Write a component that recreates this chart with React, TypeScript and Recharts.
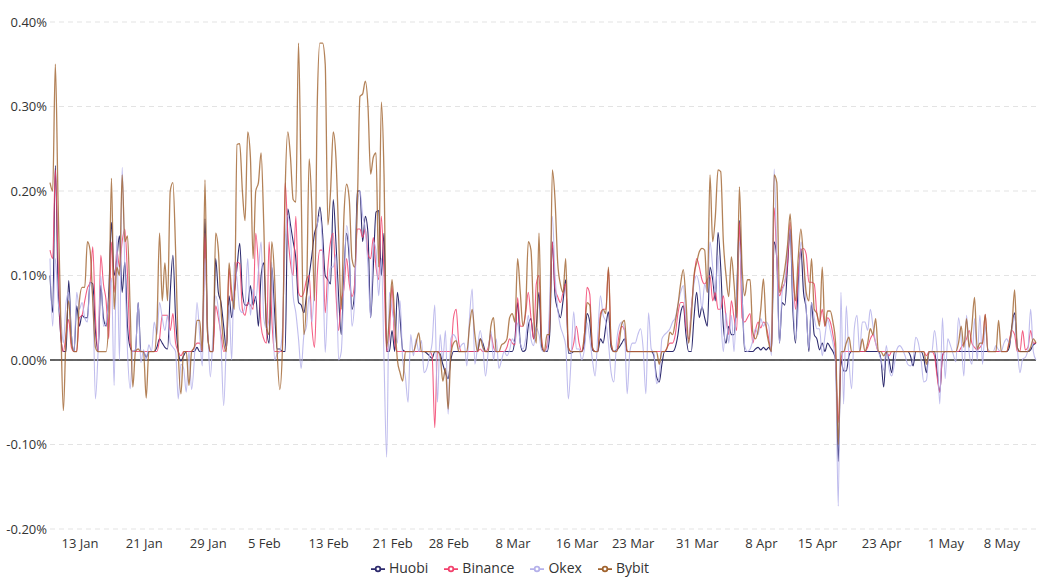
import React from "react";
import { LineChart, Line, XAxis, YAxis, CartesianGrid, Legend, ReferenceLine } from "recharts";

// funding rates every 8 hours, values in units of 0.01%
const START = Date.UTC(2021, 0, 9, 6);
const STEP = 8 * 3600 * 1000;

const tickDates = [
    "2021-01-13", "2021-01-21", "2021-01-29", "2021-02-05", "2021-02-13", "2021-02-21",
    "2021-02-28", "2021-03-08", "2021-03-16", "2021-03-23", "2021-03-31", "2021-04-08",
    "2021-04-15", "2021-04-23", "2021-05-01", "2021-05-08",
];
const monthNames = ["Jan", "Feb", "Mar", "Apr", "May", "Jun", "Jul", "Aug", "Sep", "Oct", "Nov", "Dec"];
const yTicks = [-20, -10, 0, 10, 20, 30, 40];
const legendOrder = ["Huobi", "Binance", "Okex", "Bybit"];

const huobi = [
    10, 5.6, 23, 9, 3, 1, 1, 9.4, 3, 1,
    6.4, 4, 5.3, 5, 5, 9.2, 9, 3.5, 1, 8.8,
    5, 4, 8, 16.3, 10, 12, 14.7, 8, 11.6, 4,
    1.5, 1, 1.2, 6.8, 1, 1, 0.3, 1, 1, 1,
    1.5, 2.5, 2, 1.5, 1.3, 8, 12.4, 5, 1, -0.1,
    0.5, 1, 1, 1, 1, 1.5, 1, 1, 16.7, 3,
    1, 1, 12, 8, 6.8, 4, 1.3, 7.6, 5, 8,
    11, 13.8, 8, 6.5, 6.5, 8.8, 6.5, 7.5, 4, 10,
    11.5, 4, 2, 11, 6, 1.3, 1.3, 1, 1, 17.9,
    16, 14, 12, 6.8, 6.5, 5.6, 7.6, 10, 12.4, 15,
    16, 18.1, 15, 10, 9.5, 9, 19, 14, 7.6, 3,
    10.4, 15, 12, 6, 8, 20, 20, 14, 17, 15,
    5, 11, 17.5, 17.7, 10, 15, 1, 1, 3.5, 1,
    8, 5, 1.2, 1, 1, 1, 1, 1, 1, 1,
    1, 0.8, 0.5, 0.2, 1, 1, 0.7, -0.5, -1.5, -2.2,
    0, 1, 1, 1, 1, 1, 1, 1, 1, 1,
    1, 2.5, 2, 1, 1, 1, 1, 1, 1, 1,
    1, 1, 1, 1, 2.5, 6.8, 2, 1, 1.2, 4,
    4.9, 2.5, 4, 8, 1.5, 1, 1, 3, 14, 7.6,
    6, 5, 7, 9.5, 0.8, 0.8, 1, 1, 1, 1,
    2, 5.5, 4.5, 1.2, 1, 1, 2.5, 2, 4, 5.7,
    1.5, 1, 1.2, 1.5, 2, 2.5, 1, 1, 1, 1,
    1, 1, 1, 1, 1, 1, 0.5, -2, -2.6, -0.5,
    1, 1, 1, 1, 1.5, 3, 5.5, 6.4, 3, 1,
    1, 5, 8, 5, 6.3, 5, 4, 11, 9.5, 7,
    15.1, 11, 4, 2, 4, 3, 3, 8, 16.5, 8,
    1, 1, 1, 1, 1.3, 1.5, 1.2, 1.5, 1.2, 1.5,
    1, 14, 12, 2, 6.8, 6.5, 11, 15.5, 6, 2,
    9, 13.2, 8, 6, 1, 6.8, 3, 2.5, 1.2, 2,
    1, 2, 1.5, 1, 0, -12, 0, -1.3, -1.3, 0.5,
    1, 1, 1, 1, 1, 1, 1, 1, 1, 1,
    1, 0, -3.2, 1, 0, -1.5, 1, 1, 1, 1,
    1, 1, 0.5, -0.7, 1, 1, 1, 0.2, -1.5, 1,
    1, 1, -1.5, -3.8, 0.5, 1, 1, 1, 1, 1,
    1, 1, 1, 1, 1, 1, 1, 1, 1, 1,
    1, 1, 1, 1, 1, 1, 1, 1, 1, 1.5,
    4, 5.6, 1.5, 1, 1, 1, 1, 1.2, 1.8, 2,
];

const binance = [
    13, 12, 22.5, 12, 3, 1, 3, 4.8, 1.5, 1,
    1, 5, 5.3, 7, 8.5, 9.2, 13.4, 5, 1, 12.4,
    9, 7, 2.5, 14, 8, 13, 11, 14, 15.5, 10,
    2, 1, 1, 1, 1, 1, 1, 1, 1, 1,
    1, 2.5, 5.3, 5.3, 5.3, 3.5, 5.5, 2, 1, 0.5,
    1, 1, 1, 1, 1.5, 2, 2, 1, 15, 3,
    1, 1, 6.4, 5, 3, 1, 1.5, 10.8, 7, 8,
    11.6, 11.4, 6, 5.3, 6.8, 6.5, 6, 15, 11, 4,
    2.5, 2, 14, 5, 1, 1, 1, 1, 21, 15,
    11.5, 10, 17, 8, 7.5, 8, 9.5, 10, 4, 1.5,
    10, 13, 13, 5.6, 11, 14, 15, 8, 3.5, 7,
    8.4, 12, 9, 7.5, 9, 15.5, 15.5, 14.5, 15.5, 12.5,
    12, 14.5, 11, 9.5, 17, 10, 1, 3, 8.8, 2,
    1, 1, 1, 1, 1, 1, 1, 1, 1, 1,
    1, 1, 1, 0.5, -8, 1, 1, 1, 1, 1,
    1, 5, 6, 2, 1, 1, 1, 1, 1, 1,
    1, 1.3, 1, 1, 1.5, 3, 1.5, 1, 1, 1,
    1, 1.5, 2.5, 2, 1.8, 7.4, 4, 4, 5.5, 8,
    5, 2.5, 9, 10, 2.5, 1, 1.8, 5, 14, 8.5,
    7.5, 6.8, 8, 9, 1.5, 1, 2, 4, 2, 1,
    3, 8.6, 7.8, 1.5, 1, 1, 5.5, 6, 6, 10.8,
    2, 1, 1, 3, 4, 3.5, 1, 1, 1, 1,
    1, 1, 1, 1, 1, 1, 1, 1, 1, 1,
    1, 1.5, 2, 2, 3, 5.5, 6.8, 6.8, 4, 2.5,
    6, 9.5, 12, 11, 9.5, 9, 9.5, 10, 7, 8,
    6, 6, 7.6, 5, 3, 7, 5, 3.5, 16.3, 5,
    4.5, 5, 5.5, 2, 3.5, 4.5, 3.8, 4.5, 4, 2.5,
    1, 18, 12, 7.6, 8.5, 9.2, 11.5, 16.3, 11, 6,
    10, 13, 13.2, 12.5, 9.2, 9.2, 9, 5.5, 4.5, 6,
    4, 5, 4.5, 3, 0.5, -7.4, 0, 1, 1, 1,
    1, 1, 1, 1, 1, 1, 1.5, 2.5, 3, 2,
    1, 1, 1, 1, 0.5, 1, 1, 1, 1, 1,
    1, 1, 1, 1, 1, 1, 1, 1, 0.5, 1,
    1, 0.5, -2, -3.8, 0.5, 1, 1, 1, 1, 1,
    1, 1.5, 2, 2.5, 3.5, 2, 1.5, 1.2, 1.5, 2,
    5.4, 1, 1, 1, 1, 1, 1, 1, 1, 2.3,
    3.5, 3, 1, 1, 3.5, 1.2, 1.5, 3.5, 2, 2,
];

const okex = [
    12, 4, 12, 7, 5, 2, 6.8, 8, 3, 1,
    8, 6, 6.8, 5, 4.5, 9.2, 7.6, -4.6, 1, 10,
    4, 4.5, 7, 9.7, -3, 14.7, 0, 22.8, 11, 1,
    -3.4, 1, 1.2, 6.8, -0.3, 1.2, 0, 1.8, 1, 4.5,
    3, 6.8, 5, 3.5, 5.3, 2, 1.5, 1, -4.6, -0.5,
    -1, -3.8, 1, -3.5, 0, 6.8, 3, -0.7, 12, 4,
    -2, 3, 7.6, 6, 2, -5.4, 2, 6.5, 0, 11.6,
    9.5, 6, 5.6, 6.5, 12, 5.3, 8.4, 7, 10.5, 14,
    5, 3.7, 5, 11.6, 0, 0.7, 1, 3.7, 14, 17.1,
    14.6, 7.6, 5.6, 2.5, -1, 2.9, 4, 7.6, 4.5, 9.2,
    16, 17.1, 13, 0.9, 8, 11, 11, 12.5, 0, 1,
    9, 15.9, 13, 4, 7, 18, 20, 17.1, 15.5, 11,
    5, 14, 13, 7.6, 12, 0, -11.5, 8, 6, 4,
    2, 7, 0, -2, -5, 3, 0.5, 2.5, 1, 2.3,
    -1.5, -1, 0.5, 2, 6.5, -5, 3, 0, 3.5, -6.4,
    2.5, 3, 2.5, 1.3, 1.8, 2, -0.7, 5, 8.4, -0.5,
    1.5, 3.5, 1.5, -1.9, 1, 3.5, 0, 2.5, -1, 0,
    1, 0.5, 1.2, 2.5, 2, 4.4, 2, 1.3, 2.5, 5.3,
    2.5, 1.7, 3.8, 3, 1.2, 1, 1.2, 7, 17, 10,
    6, 4, 3, 1.7, -4.6, 0, 5.7, 1.3, 1.3, 0,
    1.3, 4.4, 2.5, 0, -1.9, 3, 7.6, 5.3, 4.5, 2,
    -1.5, -2.6, 2, 4, 4.5, 3.5, -4, 1, 2, 2,
    3, 3.7, 1.3, -4, 5.6, 1.3, 0.8, -2.8, -2, 2.5,
    3, 3.3, 3.7, 4.5, 5, 6.5, 8, 8.8, 5, 2,
    6, 9, 10, 8.8, 6, 9, 8, 14, 11, 8,
    12.4, 5.3, 1, 5.6, 2, 5.3, 1, 8, 14, 7.6,
    1.7, 1, 1.3, 2.3, 3.7, 3, 4.9, 4, 4.5, 4,
    0.5, 22.6, 12, 2, 8, 9.2, 13, 15.5, 7.5, 2.5,
    6, 14, 11.6, 6, 1.3, 6.8, 5, 3.7, 3.7, 0.5,
    2.8, 4.8, 3.5, 2, -0.5, -17.3, 8, -5.2, 6.4, 0,
    -3.4, 3.7, 5.3, 1, 4.5, 4.5, 3.5, 6, 4, 2,
    1, 0, -1.2, 1.7, -1, -1.9, -0.5, 1.3, 1.7, 1.3,
    0.5, -0.5, -0.7, 0, 2.7, 2, 0, -2.6, -2.4, 1,
    0.9, 3.5, 1, -5.2, 5, -2.2, 2.5, 1.7, 0.7, -0.2,
    5, 2.5, -1.9, 5.3, 0.8, -0.5, 4.9, 0, 5.3, -0.5,
    4, 1.3, 1, 1, 1.7, 1.2, 1, 2, 2.5, 2,
    3.5, 5.3, 1.5, -1.5, 0.1, 0.3, 1.3, 6, 1, 0,
];

const bybit = [
    21, 20, 35, 19, 5, -6, 3, 7, 2, 1,
    1, 7, 8.6, 8.6, 14, 13, 7, 1.5, 1, 1,
    1, 1, 5, 21.5, 6, 11, 10, 21.9, 14, 14.7,
    6, -3.2, 1, 1.3, 1, 1, -4.5, 1, 1, 1,
    4, 15, 7, 11.5, 7, 20, 21, 13, 1, -4,
    1, 1, -3, 1, 1.5, 4.7, 4.7, 1, 21.3, 3,
    1, 1, 15, 13, 6, 2, 1, 11.5, 8, 6,
    25.5, 25.6, 20, 16.5, 27, 24, 12, 20, 21, 24.5,
    16, 4, 3, 14, 10, 1, -3.5, 1.5, 20, 27,
    24, 19, 18.7, 37.5, 20, 3, 7.5, 23.8, 18, 7,
    30, 37.5, 37.5, 35, 16, 20, 27, 24, 15, 6,
    17, 20.8, 19, 12, 11, 18, 31.2, 31.5, 33, 30,
    22, 24, 24.5, 11, 30.5, 22, 1.5, 5, 9.5, 5,
    0, -1.5, -2.5, 1, 1, 1, 1, 2, 3.2, 1,
    1, 1, 1, 1, 1, 1, 0.5, -2.5, -1, -5.8,
    0.5, 2, 2.3, 1, 1, 1, 1, 4, 6, 3,
    1, 2.5, 1.5, 1, 1, 4, 5, 1, 1, 1.8,
    2, 2.5, 5, 5.5, 4.5, 12, 8, 4, 6, 14,
    13, 5, 2, 15, 2, 1, 3, 3, 22.5, 19,
    11.5, 9, 8, 12, 1.5, 1, 1, 1, 1, 1,
    3, 6.8, 6.5, 1.5, 1, 1, 5, 6, 5.5, 11,
    2, 1, 1, 2, 4.3, 4.7, 1, 1, 1, 1,
    1, 1, 1, 1, 1, 1, 1, 1, -0.5, 1,
    1, 1.5, 3.3, 3, 4.5, 6.5, 9, 10.7, 7, 2,
    5, 10, 11.5, 12.8, 13.2, 13, 8, 21.9, 14, 17,
    22.5, 22.3, 14, 10, 7.5, 12.2, 9, 5, 20.5, 11,
    7.6, 9.5, 9.5, 3.3, 2.5, 3.5, 6, 9.6, 4, 2,
    1, 21.9, 21, 8, 9, 10.8, 13.5, 17.3, 11, 7,
    12, 15.5, 12, 8, 7, 12, 6, 5.5, 4, 11,
    4, 5.8, 5.8, 4.5, 2, -10, 1, 1, 2, 2.7,
    1, 1, 1, 1, 2.5, 1, 2, 3.7, 3, 4.9,
    1, 1, 0.5, 1, 1, 1, 1, 1, 1, 1,
    1, 1, 1, 1, 1, 1, 1, 1, -0.5, 1,
    1, 1, 1, 1, 1, 1, 1, 1, 1, 1,
    2, 4, 1.5, 4.9, 1.5, 4, 7.4, 1.3, 2, 2,
    5.4, 1, 1, 1, 1, 4.7, 1, 1, 1, 2,
    4, 8.3, 1.5, 1, 1, 1, 1, 1.5, 2.5, 2,
];

const count = Math.min(huobi.length, binance.length, okex.length, bybit.length);
const data = Array.from({ length: count }, (_, i) => ({
    t: START + i * STEP,
    huobi: huobi[i],
    binance: binance[i],
    okex: okex[i],
    bybit: bybit[i],
}));

const xTicks = tickDates.map((d) => Date.parse(d + "T00:00:00Z"));
const fmtDate = (v: number) => {
    const d = new Date(v);
    return `${d.getUTCDate()} ${monthNames[d.getUTCMonth()]}`;
};
const fmtRate = (v: number) => `${(v / 100).toFixed(2)}%`;

const font = "'Open Sans', 'Noto Sans', sans-serif";
const tickStyle = { fontSize: 13, fill: "#333", fontFamily: font };

const App: React.FC = () => {
    return (
        <div style={{ position: "absolute", left: 0, top: 0, width: 1046, height: 587, background: "#fff" }}>
            <LineChart width={1046} height={587} data={data} margin={{ top: 22, right: 10, bottom: 10, left: 0 }}>
                <CartesianGrid vertical={false} stroke="#e3e3e3" strokeDasharray="5 4" />
                <XAxis
                    dataKey="t"
                    type="number"
                    domain={[data[0].t, data[data.length - 1].t]}
                    ticks={xTicks}
                    tickFormatter={fmtDate}
                    axisLine={false}
                    tickLine={false}
                    tickSize={0}
                    tickMargin={10}
                    height={29}
                    tick={tickStyle}
                    interval={0}
                />
                <YAxis
                    domain={[-20, 40]}
                    ticks={yTicks}
                    tickFormatter={fmtRate}
                    axisLine={false}
                    tickLine={false}
                    tickSize={0}
                    tickMargin={3}
                    width={50}
                    tick={tickStyle}
                    interval={0}
                />
                <ReferenceLine y={0} stroke="#333" strokeWidth={1.5} />
                <Legend
                    verticalAlign="bottom"
                    itemSorter={(item: any) => legendOrder.indexOf(item.value)}
                    wrapperStyle={{ fontSize: 14, fontFamily: font }}
                    formatter={(value) => <span style={{ color: "#333", marginRight: 6 }}>{value}</span>}
                />
                <Line type="monotone" dataKey="huobi" name="Huobi" stroke="#2e2b6e" strokeWidth={1.1} dot={false} isAnimationActive={false} />
                <Line type="monotone" dataKey="binance" name="Binance" stroke="#f2426d" strokeOpacity={0.85} strokeWidth={1.1} dot={false} isAnimationActive={false} />
                <Line type="monotone" dataKey="okex" name="Okex" stroke="#b5b1ea" strokeOpacity={0.85} strokeWidth={1.1} dot={false} isAnimationActive={false} />
                <Line type="monotone" dataKey="bybit" name="Bybit" stroke="#a0632e" strokeOpacity={0.8} strokeWidth={1.3} dot={false} isAnimationActive={false} />
            </LineChart>
        </div>
    );
};

export default App;
